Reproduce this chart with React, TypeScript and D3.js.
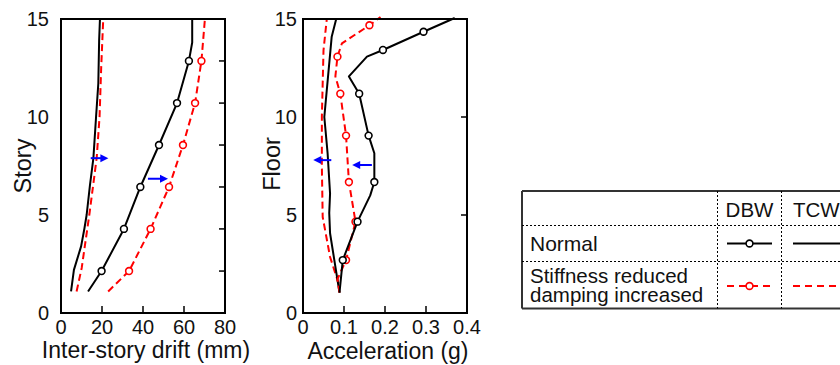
import React from 'react';
import * as d3 from 'd3';

// ---------- tick values ----------
const storyTicks = [0, 5, 10, 15];
const driftTicks = [0, 20, 40, 60, 80];
const accTicks = [0, 0.1, 0.2, 0.3, 0.4];
const driftInnerXTicks = [20, 40, 60];
const accInnerXTicks = [0.1, 0.2, 0.3];
const driftRightTicks = [2.14, 4.29, 6.43, 8.57, 10.71, 12.86];
const accRightTicks = [5, 10];

// ---------- left panel: inter-story drift (mm) ----------
const dbwNormalStory = [1.1, 2.14, 4.29, 6.43, 8.57, 10.71, 12.86, 13.8, 15];
const dbwNormalDrift = [13.2, 19.8, 30.7, 38.7, 47.8, 56.6, 62.4, 64.0, 64.0];
const dbwNormalDriftMarkers = [false, true, true, true, true, true, true, false, false];

const dbwReducedStory = [1.1, 2.14, 4.29, 6.43, 8.57, 10.71, 12.86, 15];
const dbwReducedDrift = [23.0, 33.2, 43.7, 52.7, 59.5, 65.4, 68.5, 70.2];
const dbwReducedDriftMarkers = [false, true, true, true, true, true, true, false];

const tcwNormalStory = [1.1, 2.2, 3.4, 4.3, 5.0, 6.5, 7.9, 10.0, 11.7, 13.9, 15];
const tcwNormalDrift = [4.9, 6.3, 9.8, 11.4, 12.5, 14.1, 15.8, 17.1, 18.2, 18.6, 19.0];

const tcwReducedStory = [1.1, 2.3, 5.0, 7.9, 10.0, 12.5, 15];
const tcwReducedDrift = [7.6, 10.1, 13.8, 17.4, 18.8, 19.6, 20.6];

// arrows (from -> to, at a story level)
const driftArrowFrom = [14.5, 42.4];
const driftArrowTo = [23.1, 52.2];
const driftArrowStory = [7.9, 6.85];

// ---------- right panel: acceleration (g) ----------
const dbwNormalFloor = [1.04, 2.7, 4.66, 6.0, 6.68, 8.15, 9.05, 11.19, 12.07, 13.08, 13.42, 14.35, 15.05];
const dbwNormalAcc = [0.089, 0.097, 0.133, 0.164, 0.174, 0.174, 0.160, 0.137, 0.112, 0.156, 0.195, 0.294, 0.37];
const dbwNormalAccMarkers = [false, true, true, false, true, false, true, true, false, false, true, true, false];

const dbwReducedFloor = [1.04, 1.72, 2.7, 4.66, 6.68, 9.05, 11.19, 12.07, 13.08, 13.76, 14.68, 15.1];
const dbwReducedAcc = [0.089, 0.084, 0.105, 0.128, 0.112, 0.105, 0.091, 0.079, 0.084, 0.095, 0.162, 0.189];
const dbwReducedAccMarkers = [false, false, true, true, true, true, true, false, true, false, true, false];

const tcwNormalFloor = [1.04, 4.07, 5.1, 6.1, 8.15, 10.0, 14.1, 15];
const tcwNormalAcc = [0.089, 0.066, 0.064, 0.066, 0.060, 0.052, 0.070, 0.081];

const tcwReducedFloor = [1.5, 2.86, 4.9, 7.5, 10.0, 13.4, 15];
const tcwReducedAcc = [0.087, 0.066, 0.048, 0.046, 0.046, 0.050, 0.058];

const accArrowFrom = [0.069, 0.168];
const accArrowTo = [0.025, 0.120];
const accArrowFloor = [7.8, 7.55];

// ---------- legend ----------
const legendRows = ['Normal', 'Stiffness reduced\ndamping increased'];
const legendCols = ['DBW', 'TCW'];

const FONT = "'Liberation Sans', Arial, Helvetica, sans-serif";
const RED = '#ff0000';
const BLUE = '#0000ff';

type Series = {
  xs: number[];
  ys: number[];
  markers?: boolean[];
  color: string;
  dashed: boolean;
};

type PanelProps = {
  x0: number;
  x1: number;
  domain: [number, number];
  xTicks: number[];
  xTickFmt: (v: number) => string;
  innerXTicks: number[];
  rightTicks: number[];
  series: Series[];
  arrows: { from: number[]; to: number[]; y: number[] };
  yLabelEnd: number;
  yTitle: string;
  yTitleX: number;
  yTitleY: number;
  xTitle: string;
  xTitleY: number;
};

const Y_TOP = 19;
const Y_BOT = 313;

function Panel(p: PanelProps) {
  const x = d3.scaleLinear().domain(p.domain).range([p.x0, p.x1]);
  const y = d3.scaleLinear().domain([0, 15]).range([Y_BOT, Y_TOP]);
  const line = d3
    .line<[number, number]>()
    .x((d) => x(d[0]))
    .y((d) => y(d[1]));
  return (
    <g>
      {p.series.map((s, i) => {
        const pts = s.xs.map((v, k) => [v, s.ys[k]] as [number, number]);
        return (
          <g key={i}>
            <path
              d={line(pts) || ''}
              fill="none"
              stroke={s.color}
              strokeWidth={2}
              strokeDasharray={s.dashed ? '7,4' : undefined}
              strokeLinejoin="round"
            />
            {s.markers &&
              pts.map((d, k) =>
                s.markers![k] ? (
                  <circle key={k} cx={x(d[0])} cy={y(d[1])} r={3.4} fill="#fff" stroke={s.color} strokeWidth={1.6} />
                ) : null
              )}
          </g>
        );
      })}
      {p.arrows.from.map((f, i) => {
        const xa = x(f);
        const xb = x(p.arrows.to[i]);
        const yy = y(p.arrows.y[i]);
        const dir = xb > xa ? 1 : -1;
        const hl = 8;
        return (
          <g key={'a' + i}>
            <line x1={xa} y1={yy} x2={xb - dir * hl * 0.6} y2={yy} stroke={BLUE} strokeWidth={2} />
            <polygon points={`${xb},${yy} ${xb - dir * hl},${yy - 4} ${xb - dir * hl},${yy + 4}`} fill={BLUE} />
          </g>
        );
      })}
      {/* inner ticks */}
      {p.innerXTicks.map((t) => (
        <line key={'ix' + t} x1={x(t)} x2={x(t)} y1={Y_BOT} y2={Y_BOT - 7} stroke="#000" strokeWidth={1.5} />
      ))}
      {p.rightTicks.map((t) => (
        <line key={'ry' + t} x1={p.x1} x2={p.x1 - 6} y1={y(t)} y2={y(t)} stroke="#000" strokeWidth={1.5} />
      ))}
      <rect x={p.x0} y={Y_TOP} width={p.x1 - p.x0} height={Y_BOT - Y_TOP} fill="none" stroke="#000" strokeWidth={2} />
      {/* tick labels */}
      {p.xTicks.map((t) => (
        <text key={'xl' + t} x={x(t)} y={334} textAnchor="middle" fontSize={20} fontFamily={FONT} fill="#111">
          {p.xTickFmt(t)}
        </text>
      ))}
      {storyTicks.map((t) => (
        <text key={'yl' + t} x={p.yLabelEnd} y={y(t) + 7} textAnchor="end" fontSize={20} fontFamily={FONT} fill="#111">
          {t}
        </text>
      ))}
      <text
        transform={`translate(${p.yTitleX},${p.yTitleY}) rotate(-90)`}
        textAnchor="middle"
        fontSize={23.5}
        fontFamily={FONT}
        fill="#111"
        dy="0.35em"
      >
        {p.yTitle}
      </text>
      <text x={(p.x0 + p.x1) / 2 + 3} y={p.xTitleY} textAnchor="middle" fontSize={23} fontFamily={FONT} fill="#111">
        {p.xTitle}
      </text>
    </g>
  );
}

function Legend() {
  const left = 522;
  const right = 842;
  const top = 191;
  const hLine = 225.5;
  const rLine = 261.5;
  const bottom = 308.5;
  const c1 = 717.5;
  const c2 = 781.5;
  const dash = '2,2';
  const rowY = [243.5, 286];
  return (
    <g fontFamily={FONT} fill="#111">
      <line x1={left} x2={right} y1={top} y2={top} stroke="#333" strokeWidth={2} />
      <line x1={left} x2={right} y1={bottom} y2={bottom} stroke="#333" strokeWidth={2} />
      <line x1={left} x2={left} y1={top} y2={bottom} stroke="#333" strokeWidth={2} />
      <line x1={left} x2={right} y1={hLine} y2={hLine} stroke="#000" strokeWidth={1} strokeDasharray={dash} />
      <line x1={left} x2={right} y1={rLine} y2={rLine} stroke="#000" strokeWidth={1} strokeDasharray={dash} />
      <line x1={c1} x2={c1} y1={top} y2={bottom} stroke="#000" strokeWidth={1} strokeDasharray={dash} />
      <line x1={c2} x2={c2} y1={top} y2={bottom} stroke="#000" strokeWidth={1} strokeDasharray={dash} />
      <text x={(c1 + c2) / 2} y={217} textAnchor="middle" fontSize={20.5}>
        {legendCols[0]}
      </text>
      <text x={793} y={217} fontSize={20.5}>
        {legendCols[1]}
      </text>
      <text x={530} y={251} fontSize={21}>
        {legendRows[0]}
      </text>
      {legendRows[1].split('\n').map((s, i) => (
        <text key={i} x={530} y={282.5 + i * 19.5} fontSize={20.5}>
          {s}
        </text>
      ))}
      {/* symbols */}
      <line x1={727} x2={772} y1={rowY[0]} y2={rowY[0]} stroke="#000" strokeWidth={2} />
      <circle cx={749.5} cy={rowY[0]} r={3.4} fill="#fff" stroke="#000" strokeWidth={1.6} />
      <line x1={793} x2={840} y1={rowY[0]} y2={rowY[0]} stroke="#000" strokeWidth={2} />
      <line x1={727} x2={772} y1={rowY[1]} y2={rowY[1]} stroke={RED} strokeWidth={2} strokeDasharray="7,5" />
      <circle cx={749.5} cy={rowY[1]} r={3.4} fill="#fff" stroke={RED} strokeWidth={1.6} />
      <line x1={793} x2={840} y1={rowY[1]} y2={rowY[1]} stroke={RED} strokeWidth={2} strokeDasharray="7,5" />
    </g>
  );
}

export default function App() {
  const leftSeries: Series[] = [
    { xs: tcwNormalDrift, ys: tcwNormalStory, color: '#000', dashed: false },
    { xs: tcwReducedDrift, ys: tcwReducedStory, color: RED, dashed: true },
    { xs: dbwReducedDrift, ys: dbwReducedStory, markers: dbwReducedDriftMarkers, color: RED, dashed: true },
    { xs: dbwNormalDrift, ys: dbwNormalStory, markers: dbwNormalDriftMarkers, color: '#000', dashed: false },
  ];
  const rightSeries: Series[] = [
    { xs: tcwReducedAcc, ys: tcwReducedFloor, color: RED, dashed: true },
    { xs: tcwNormalAcc, ys: tcwNormalFloor, color: '#000', dashed: false },
    { xs: dbwReducedAcc, ys: dbwReducedFloor, markers: dbwReducedAccMarkers, color: RED, dashed: true },
    { xs: dbwNormalAcc, ys: dbwNormalFloor, markers: dbwNormalAccMarkers, color: '#000', dashed: false },
  ];
  return (
    <svg width={840} height={365} style={{ position: 'absolute', left: 0, top: 0, background: '#fff' }}>
      <rect width={840} height={365} fill="#fff" />
      <Panel
        x0={61}
        x1={225}
        domain={[0, 80]}
        xTicks={driftTicks}
        xTickFmt={(v) => String(v)}
        innerXTicks={driftInnerXTicks}
        rightTicks={driftRightTicks}
        series={leftSeries}
        arrows={{ from: driftArrowFrom, to: driftArrowTo, y: driftArrowStory }}
        yLabelEnd={49}
        yTitle="Story"
        yTitleX={23}
        yTitleY={166}
        xTitle="Inter-story drift (mm)"
        xTitleY={358}
      />
      <Panel
        x0={303}
        x1={467}
        domain={[0, 0.4]}
        xTicks={accTicks}
        xTickFmt={(v) => (v === 0 ? '0' : v.toFixed(1))}
        innerXTicks={accInnerXTicks}
        rightTicks={accRightTicks}
        series={rightSeries}
        arrows={{ from: accArrowFrom, to: accArrowTo, y: accArrowFloor }}
        yLabelEnd={297}
        yTitle="Floor"
        yTitleX={272}
        yTitleY={164}
        xTitle="Acceleration (g)"
        xTitleY={359}
      />
      <Legend />
    </svg>
  );
}
